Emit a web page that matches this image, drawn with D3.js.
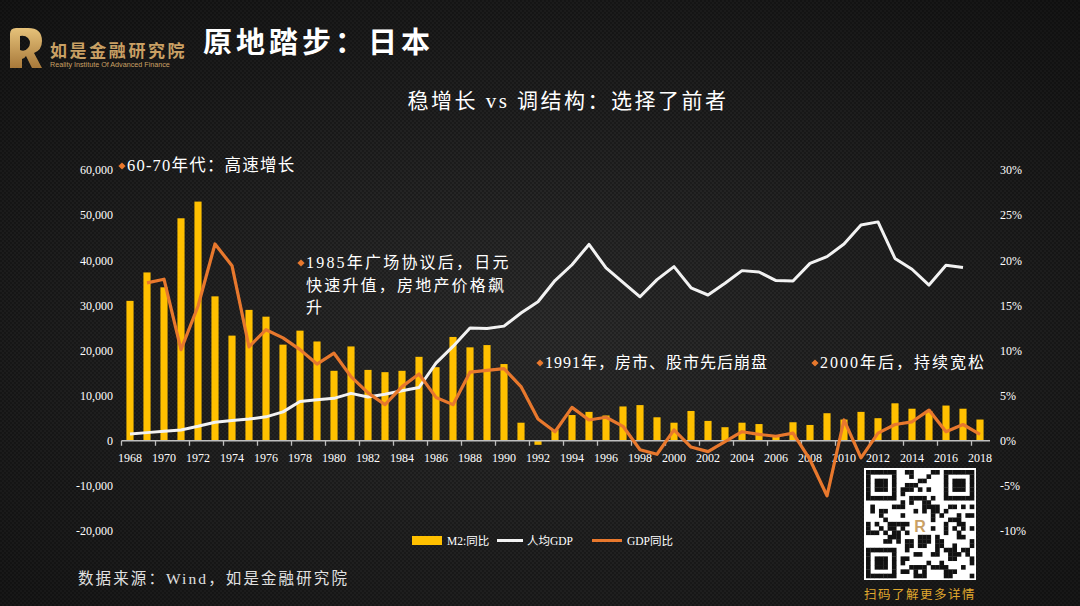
<!DOCTYPE html>
<html><head><meta charset="utf-8">
<script src="https://cdn.jsdelivr.net/npm/d3@7"></script>
<style>
html,body{margin:0;padding:0;background:#1e1e1e;}
svg{display:block;}
</style></head>
<body>
<svg id="chart" width="1080" height="606"></svg>
<script>
// ---------- DATA ----------
const years = [1968,1969,1970,1971,1972,1973,1974,1975,1976,1977,1978,1979,1980,1981,1982,1983,1984,1985,1986,1987,1988,1989,1990,1991,1992,1993,1994,1995,1996,1997,1998,1999,2000,2001,2002,2003,2004,2005,2006,2007,2008,2009,2010,2011,2012,2013,2014,2015,2016,2017,2018];
const m2Yoy = [31000,37300,34000,49300,53000,32000,23300,29000,27500,21300,24400,22000,
  15500,20900,15700,15200,15500,18600,16300,23000,20700,21200,17000,4000,-900,
  2400,5700,6400,5600,7600,7900,5200,4000,6600,4400,3000,4000,3700,
  900,4100,3500,6100,4700,6400,5000,8300,7100,6500,7800,7100,4700];
const gdpPerCapita = [1500,1800,2100,2400,3200,4100,4500,4800,5300,6400,8700,9100,
  9400,10500,9700,10300,11100,11800,17200,20900,25000,24900,25400,28300,30800,
  35500,39000,43500,38300,35100,31900,35700,38600,33900,32300,34900,37700,37400,
  35500,35400,39300,40800,43600,47800,48500,40400,38000,34500,38900,38400,null];
const gdpYoy = [null,17.5,17.9,10.1,14.9,21.8,19.4,10.4,12.3,11.4,10.1,8.5,
  9.7,7.1,5.3,4.0,6.0,7.4,4.8,4.0,7.6,7.8,8.0,6.0,2.4,
  1.0,3.7,2.3,2.6,1.6,-1.0,-1.5,1.2,-0.7,-1.2,-0.1,1.0,0.7,
  0.5,0.85,-2.1,-6.1,2.3,-1.9,0.85,1.8,2.1,3.4,1.0,1.8,0.7];
const leftTicks = [-20000,-10000,0,10000,20000,30000,40000,50000,60000];
const rightTicks = [-10,-5,0,5,10,15,20,25,30];
const seriesNames = ["M2:同比","人均GDP","GDP同比"];
const title = "原地踏步：日本";
const subtitle = "稳增长 vs 调结构：选择了前者";
const annotations = [
  {lines:["1985年广场协议后，日元","快速升值，房地产价格飙","升"]},
];

// ---------- SETUP ----------
const svg = d3.select("#chart");
const W = 1080, H = 606;
const serif = "'Liberation Serif','Times New Roman','Noto Sans CJK SC',serif";
const cjk = "'Liberation Serif','Noto Sans CJK SC',sans-serif";
const BAR = "#FFC000", ORANGE = "#E8782D", WHITE = "#F2F2F2", GOLD = "#C9A064";

const defs = svg.append("defs");
const rg = defs.append("radialGradient").attr("id","bg").attr("cx","50%").attr("cy","55%").attr("r","75%");
rg.append("stop").attr("offset","0%").attr("stop-color","#2d2d2d");
rg.append("stop").attr("offset","100%").attr("stop-color","#141414");
const pat = defs.append("pattern").attr("id","dots").attr("width",4).attr("height",4).attr("patternUnits","userSpaceOnUse");
pat.append("circle").attr("cx",1).attr("cy",1).attr("r",0.9).attr("fill","#000").attr("opacity",0.35);
pat.append("circle").attr("cx",3).attr("cy",3).attr("r",0.9).attr("fill","#000").attr("opacity",0.35);
const gg = defs.append("linearGradient").attr("id","gold").attr("x1","0").attr("y1","0").attr("x2","0").attr("y2","1");
gg.append("stop").attr("offset","0%").attr("stop-color","#E6C27A");
gg.append("stop").attr("offset","100%").attr("stop-color","#A8793A");

svg.append("rect").attr("width",W).attr("height",H).attr("fill","url(#bg)");
svg.append("rect").attr("width",W).attr("height",H).attr("fill","url(#dots)");

// ---------- HEADER ----------
const logo = svg.append("g").attr("transform","translate(8,28)");
logo.append("path")
  .attr("d","M2,40 L2,6 Q2,0 8,0 L20,0 Q34,0 34,13 Q34,22 26,25 L34,40 L24,40 L18,28 Q16,31 14,31 L14,40 Z M12,8 L12,22 Q17,24 20,20 Q24,15 20,10 Q17,7 12,8 Z")
  .attr("fill","url(#gold)").attr("fill-rule","evenodd");
svg.append("text").attr("x",50).attr("y",57).text("如是金融研究院")
  .attr("font-family","'Noto Sans CJK SC',sans-serif").attr("font-weight","bold")
  .attr("font-size",17).attr("letter-spacing",2.6).attr("fill",GOLD);
svg.append("text").attr("x",50).attr("y",67).text("Reality Institute Of Advanced Finance")
  .attr("font-family","'Liberation Sans',Arial,sans-serif").attr("font-size",7.2).attr("fill",GOLD);
svg.append("text").attr("x",203).attr("y",53).text(title)
  .attr("font-family","'Noto Sans CJK SC',sans-serif").attr("font-weight","bold")
  .attr("font-size",29).attr("letter-spacing",4).attr("fill","#fff");
svg.append("text").attr("x",568).attr("y",108).attr("text-anchor","middle").text(subtitle)
  .attr("font-family",cjk).attr("font-size",21).attr("letter-spacing",2.5).attr("fill","#fff");

// ---------- SCALES ----------
const x = d3.scaleBand().domain(years).range([121.5, 988.5]).padding(0);
const yL = d3.scaleLinear().domain([-20000,60000]).range([531,170]);
const yR = d3.scaleLinear().domain([-10,30]).range([531,170]);
const bw = x.bandwidth();
const barW = bw*0.42;

const fmtL = d => d3.format(",")(d).replace("\u2212","-");
const axL = svg.append("g").attr("transform","translate(118,0)")
  .call(d3.axisLeft(yL).tickValues(leftTicks).tickFormat(fmtL).tickSize(0).tickPadding(5));
axL.select(".domain").remove();
axL.selectAll("text").attr("font-family",serif).attr("font-size",12).attr("fill","#fff");

const axR = svg.append("g").attr("transform","translate(995,0)")
  .call(d3.axisRight(yR).tickValues(rightTicks).tickFormat(d => d + "%").tickSize(0).tickPadding(5));
axR.select(".domain").remove();
axR.selectAll("text").attr("font-family",serif).attr("font-size",12).attr("fill","#fff");

svg.append("g").selectAll("rect").data(years).join("rect")
  .attr("x", (d,i) => x(d) + (bw-barW)/2)
  .attr("width", barW)
  .attr("y", (d,i) => Math.min(yL(m2Yoy[i]), yL(0)))
  .attr("height", (d,i) => Math.abs(yL(m2Yoy[i]) - yL(0)))
  .attr("fill", BAR);

const evenYears = years.filter(y => y % 2 === 0);
const axB = svg.append("g").attr("transform",`translate(0,${yL(0)})`);
axB.append("line").attr("x1",121.5).attr("x2",990).attr("y1",0).attr("y2",0)
  .attr("stroke","#bfbfbf").attr("stroke-width",1.3);
axB.selectAll("line.tick").data(evenYears).join("line").attr("class","tick")
  .attr("x1", d => x(d)).attr("x2", d => x(d)).attr("y1",0).attr("y2",5)
  .attr("stroke","#bfbfbf").attr("stroke-width",1.3);
axB.selectAll("text").data(evenYears).join("text")
  .attr("x", d => x(d) + bw/2).attr("y",21).attr("text-anchor","middle")
  .attr("font-family",serif).attr("font-size",12).attr("fill","#fff").text(d => d);

const pcData = years.map((y,i) => ({y, v: gdpPerCapita[i]}));
const yoyData = years.map((y,i) => ({y, v: gdpYoy[i]}));
svg.append("path").datum(pcData)
  .attr("d", d3.line().defined(d => d.v != null).x(d => x(d.y)+bw/2).y(d => yL(d.v)))
  .attr("fill","none").attr("stroke",WHITE).attr("stroke-width",3).attr("stroke-linejoin","round");
svg.append("path").datum(yoyData)
  .attr("d", d3.line().defined(d => d.v != null).x(d => x(d.y)+bw/2).y(d => yR(d.v)))
  .attr("fill","none").attr("stroke",ORANGE).attr("stroke-width",3.2).attr("stroke-linejoin","round");

// ---------- ANNOTATIONS ----------
function diamond(cx, cy){
  svg.append("path").attr("d",`M${cx},${cy-3.6} L${cx+3.6},${cy} L${cx},${cy+3.6} L${cx-3.6},${cy} Z`).attr("fill",ORANGE);
}
function note(xp, yp, lines, size, spacing, lh){
  diamond(xp-5, yp-5);
  const t = svg.append("text").attr("font-family",cjk).attr("font-size",size)
    .attr("letter-spacing",spacing).attr("fill","#fff");
  lines.forEach((l,i) => t.append("tspan").attr("x",xp).attr("y",yp + i*lh).text(l));
}
note(127, 171, ["60-70年代：高速增长"], 16.5, 1.2, 0);
note(306, 268, annotations[0].lines, 16, 2.2, 22.5);
note(545, 368, ["1991年，房市、股市先后崩盘"], 16, 1.0, 0);
note(820, 368, ["2000年后，持续宽松"], 16, 2.0, 0);

// ---------- LEGEND ----------
const lg = svg.append("g").attr("font-family",cjk).attr("font-size",11.5).attr("fill","#fff");
lg.append("rect").attr("x",412).attr("y",536).attr("width",30).attr("height",9).attr("fill",BAR);
lg.append("text").attr("x",447).attr("y",545).text(seriesNames[0]);
lg.append("line").attr("x1",497).attr("x2",523).attr("y1",540.5).attr("y2",540.5).attr("stroke",WHITE).attr("stroke-width",3);
lg.append("text").attr("x",527).attr("y",545).text(seriesNames[1]);
lg.append("line").attr("x1",592).attr("x2",622).attr("y1",540.5).attr("y2",540.5).attr("stroke",ORANGE).attr("stroke-width",3);
lg.append("text").attr("x",627).attr("y",545).text(seriesNames[2]);

// ---------- SOURCE ----------
svg.append("text").attr("x",78).attr("y",584).text("数据来源：Wind，如是金融研究院")
  .attr("font-family",cjk).attr("font-size",15.5).attr("letter-spacing",2.1).attr("fill","#e0e0e0");

// ---------- QR CODE (decorative) ----------
const qr = svg.append("g").attr("transform","translate(866,470)");
const N = 25, S = 108/N;
qr.append("rect").attr("x",-2).attr("y",-2).attr("width",112).attr("height",112).attr("fill","#fff");
const cells = [];
function finder(r0,c0){
  for(let r=0;r<7;r++)for(let c=0;c<7;c++){
    const edge = r===0||r===6||c===0||c===6;
    const core = r>=2&&r<=4&&c>=2&&c<=4;
    if(edge||core) cells.push([r0+r,c0+c]);
  }
}
finder(0,0); finder(0,N-7); finder(N-7,0);
for(let r=0;r<N;r++)for(let c=0;c<N;c++){
  const inF = (r<8&&c<8)||(r<8&&c>=N-8)||(r>=N-8&&c<8);
  if(inF) continue;
  if(r>=10&&r<=14&&c>=10&&c<=14) continue;
  const h = ((r*73 + c*151 + r*c*29) ^ (r*c+7)) % 7;
  if(h < 3) cells.push([r,c]);
}
qr.selectAll("rect.m").data(cells).join("rect").attr("class","m")
  .attr("x", d => d[1]*S).attr("y", d => d[0]*S).attr("width",S+0.3).attr("height",S+0.3).attr("fill","#111");
qr.append("text").attr("x",54).attr("y",62).attr("text-anchor","middle").text("R")
  .attr("font-family","'Liberation Sans',sans-serif").attr("font-weight","bold").attr("font-size",16).attr("fill","#C9A064");
svg.append("text").attr("x",920).attr("y",599).attr("text-anchor","middle").text("扫码了解更多详情")
  .attr("font-family","'Noto Sans CJK SC',sans-serif").attr("font-size",12.5).attr("letter-spacing",1.5).attr("fill","#E0A82E");
</script>
</body></html>
